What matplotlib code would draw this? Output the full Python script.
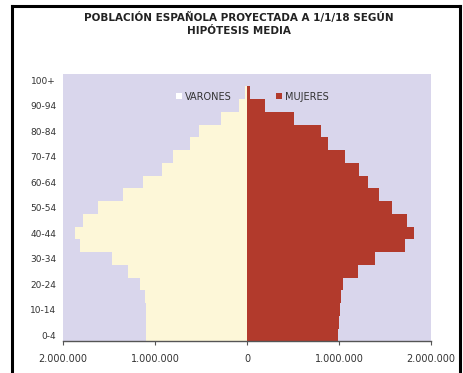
"""Pirámide de población española proyectada a 1/1/18 (hipótesis media)."""
import matplotlib

matplotlib.use("Agg")
import matplotlib.pyplot as plt
from matplotlib.lines import Line2D
from matplotlib.ticker import FuncFormatter

# grupos de edad, de abajo arriba
grupos = [
    "0-4", "5-9", "10-14", "15-19", "20-24", "25-29", "30-34", "35-39",
    "40-44", "45-49", "50-54", "55-59", "60-64", "65-69", "70-74",
    "75-79", "80-84", "85-89", "90-94", "95-99", "100+",
]

# efectivos por sexo (personas)
varones = [
    1100000, 1100000, 1100000, 1110000, 1160000, 1290000, 1470000, 1820000,
    1870000, 1780000, 1620000, 1350000, 1130000, 920000, 800000,
    620000, 520000, 280000, 90000, 20000, 5000,
]
mujeres = [
    990000, 1000000, 1010000, 1020000, 1040000, 1210000, 1390000, 1720000,
    1820000, 1740000, 1580000, 1430000, 1320000, 1220000, 1060000,
    880000, 800000, 510000, 200000, 30000, 5000,
]

etiquetas_y = ["0-4", "10-14", "20-24", "30-34", "40-44", "50-54",
               "60-64", "70-74", "80-84", "90-94", "100+"]
ticks_x = [-2000000, -1000000, 0, 1000000, 2000000]

FONDO = "#d9d6ec"
AMARILLO = "#fdf7d8"
ROJO = "#b23a2c"
TEXTO = "#333333"

plt.rcParams["font.family"] = ["Liberation Sans Narrow", "DejaVu Sans"]

fig = plt.figure(figsize=(4.63, 3.73), dpi=100)
fig.patch.set_facecolor("white")

ax = fig.add_axes([0.136, 0.0845, 0.795, 0.718])
ax.set_facecolor(FONDO)

pos = list(range(len(grupos)))
ax.barh(pos, [-v for v in varones], height=1.0, color=AMARILLO,
        edgecolor="none", label="VARONES")
ax.barh(pos, mujeres, height=1.0, color=ROJO, edgecolor="none",
        label="MUJERES")

ax.set_xlim(-2000000, 2000000)
ax.set_ylim(-0.5, len(grupos) - 0.5)

ax.set_yticks([grupos.index(g) for g in etiquetas_y])
ax.set_yticklabels(etiquetas_y)
ax.set_xticks(ticks_x)
ax.xaxis.set_major_formatter(
    FuncFormatter(lambda v, _: f"{abs(int(v)):,}".replace(",", "."))
)
ax.tick_params(axis="y", length=0, pad=5, labelsize=6.5, labelcolor=TEXTO)
ax.tick_params(axis="x", length=3, width=0.8, color="#555555", pad=6,
               labelsize=7, labelcolor=TEXTO)

for lado in ("top", "right", "left"):
    ax.spines[lado].set_visible(False)
ax.spines["bottom"].set_color("#555555")
ax.spines["bottom"].set_linewidth(1.0)

leg = ax.legend(loc="upper center", bbox_to_anchor=(0.515, 0.965), ncol=2,
                frameon=False, fontsize=7, handlelength=0.6,
                handleheight=0.6, handletextpad=0.3, columnspacing=4.6)
for t in leg.get_texts():
    t.set_color(TEXTO)
leg.legend_handles[0].set_facecolor("white")

fig.text(0.515, 0.952, "POBLACIÓN ESPAÑOLA PROYECTADA A 1/1/18 SEGÚN",
         ha="center", va="center", fontsize=7.5, fontweight="bold",
         color="#222222")
fig.text(0.515, 0.917, "HIPÓTESIS MEDIA", ha="center", va="center",
         fontsize=7.5, fontweight="bold", color="#222222")

# marco negro alrededor de la figura
for xs, ys in (([0.026, 0.026], [-0.1, 0.984]),
               ([0.026, 0.994], [0.984, 0.984]),
               ([0.994, 0.994], [0.984, -0.1])):
    fig.add_artist(Line2D(xs, ys, transform=fig.transFigure, color="black",
                          linewidth=2.2))

fig.savefig("out.png", dpi=100, facecolor="white")
